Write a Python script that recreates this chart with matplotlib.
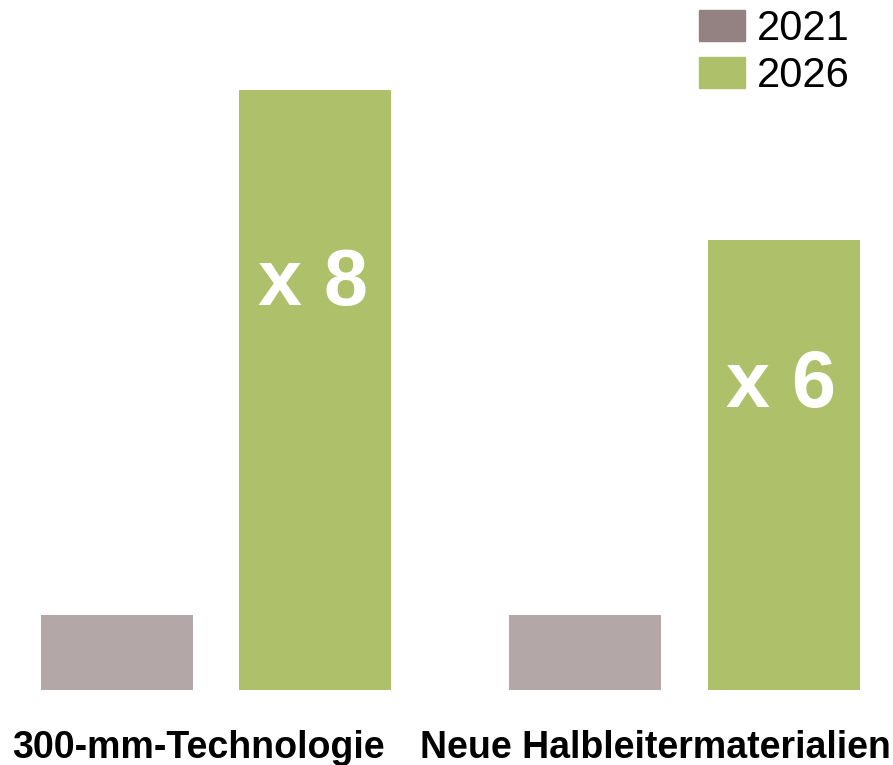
import matplotlib
matplotlib.use("Agg")
import matplotlib.pyplot as plt
from matplotlib.patches import Patch
import numpy as np

plt.rcParams['font.family'] = ['Liberation Sans', 'DejaVu Sans']

categories = ["300-mm-Technologie", "Neue Halbleitermaterialien"]
years = ["2021", "2026"]
values_2021 = [1, 1]
values_2026 = [8, 6]
growth_labels = ["x 8", "x 6"]

bar_colors = ["#b3a8a7", "#afc06a"]
legend_colors = ["#948282", "#afc06a"]

fig = plt.figure(figsize=(8.93, 7.65), dpi=100)
ax = fig.add_axes([0, 75 / 765, 1, 690 / 765])

x = np.arange(len(categories))
offset = 0.212
width = 0.324

ax.bar(x - offset, values_2021, width, color=bar_colors[0])
ax.bar(x + offset, values_2026, width, color=bar_colors[1])

for xi, v, lab in zip(x, values_2026, growth_labels):
    ax.text(xi + offset - 0.006, v * 0.675, lab, ha="center", va="center",
            color="white", fontsize=57, fontweight="bold")

label_shift = [-0.038, -0.063]
for xi, cat, s in zip(x, categories, label_shift):
    ax.text(xi + s, -0.78, cat, ha="center", va="center",
            fontsize=27, fontweight="bold", color="black")

ax.set_xlim(-0.461, 1.445)
ax.set_ylim(0, 9.2)
ax.axis("off")

handles = [Patch(color=c) for c in legend_colors]
ax.legend(handles, years, loc="upper right", bbox_to_anchor=(0.952, 0.988),
          bbox_transform=fig.transFigure, frameon=False, fontsize=30,
          handlelength=1.1, handleheight=0.77, handletextpad=0.3,
          labelspacing=0.17, borderaxespad=0.0, borderpad=0.0)

fig.savefig("out.png", dpi=100)
